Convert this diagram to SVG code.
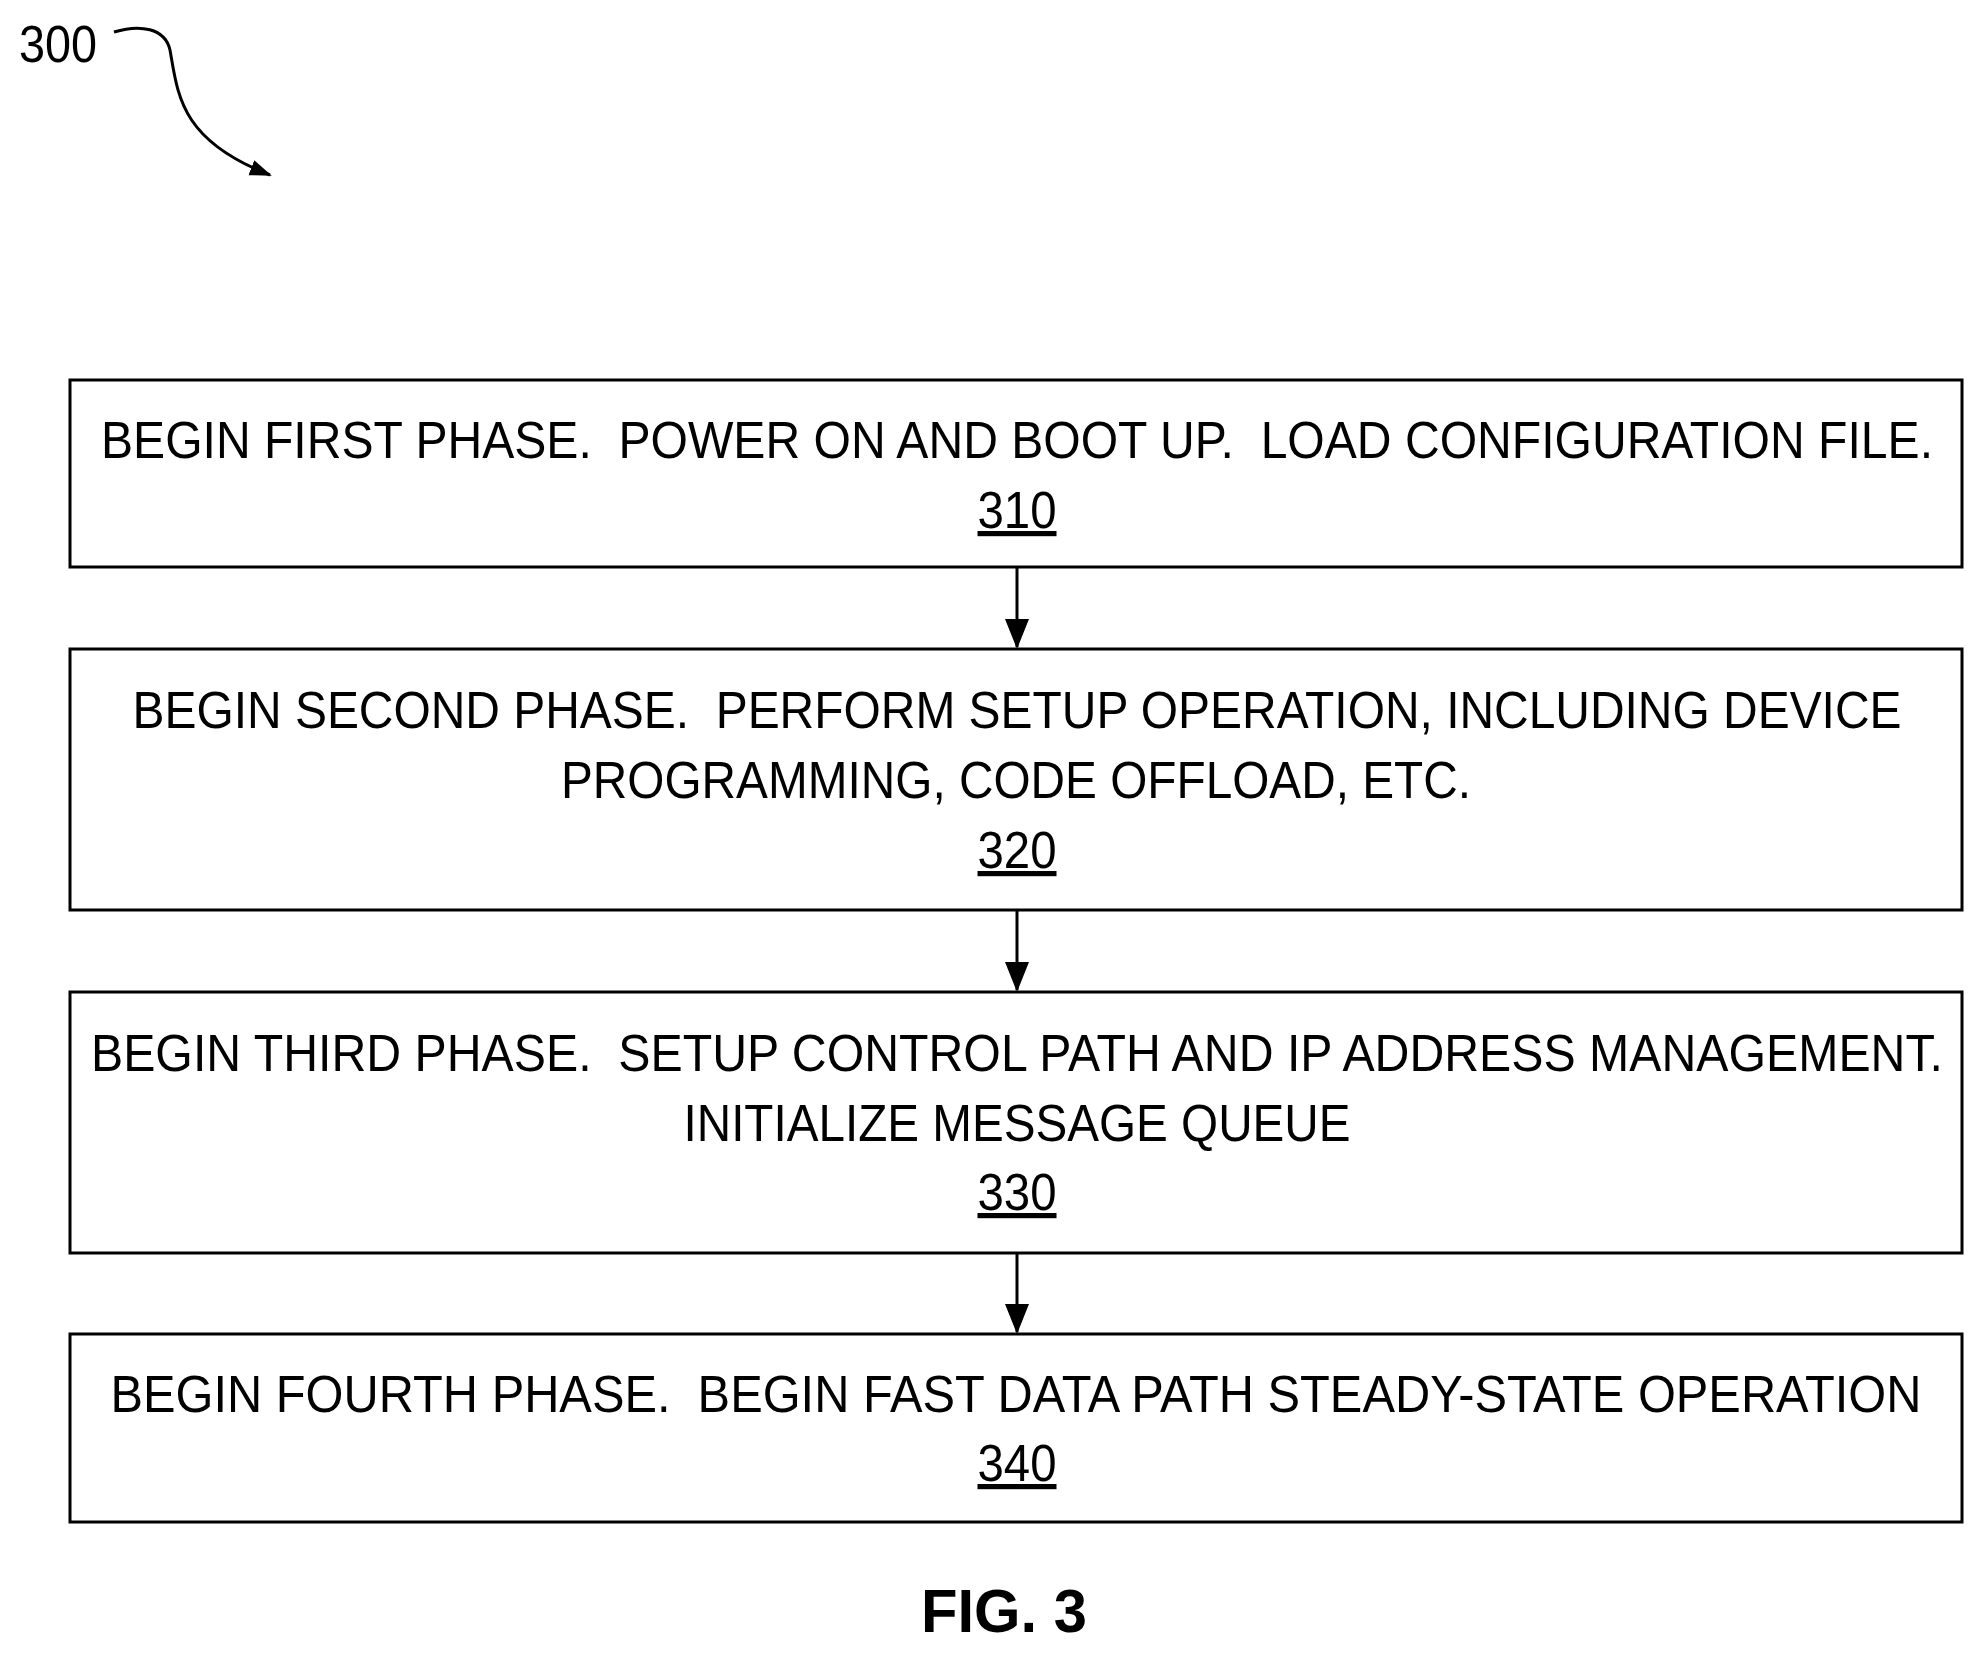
<svg xmlns="http://www.w3.org/2000/svg" width="1985" height="1655" viewBox="0 0 1985 1655">
<style>
.box{fill:#fff;stroke:#000;stroke-width:3}
.t{font-family:"Liberation Sans",Arial,sans-serif;font-size:52px;text-anchor:middle;fill:#000;white-space:pre}
.u{text-decoration:underline}
.c{stroke:#000;stroke-width:3;fill:none}
</style>
<defs>
<marker id="ah2" markerWidth="30" markerHeight="30" refX="28" refY="15" orient="auto" markerUnits="userSpaceOnUse" viewBox="0 0 30 30"><path d="M0,3 L30,15 L0,27 z" fill="#000"/></marker>
<marker id="ah3" markerWidth="22" markerHeight="22" refX="20" refY="11" orient="auto" markerUnits="userSpaceOnUse" viewBox="0 0 22 22"><path d="M0,3 L22,11 L0,19 z" fill="#000"/></marker></defs>
<rect width="1985" height="1655" fill="#fff"/>
<g id="label300"><text class="t" x="58" y="62" textLength="78" lengthAdjust="spacingAndGlyphs">300</text>
<path class="c" d="M114,32 C140,24 165,28 170,50 C178,95 180,140 270,175" marker-end="url(#ah3)" stroke-width="1.5"/></g>
<g id="n310"><rect class="box" x="70" y="380" width="1892" height="187"/>
<text class="t" x="1017" y="458" textLength="1832" lengthAdjust="spacingAndGlyphs" xml:space="preserve">BEGIN FIRST PHASE.  POWER ON AND BOOT UP.  LOAD CONFIGURATION FILE.</text>
<text class="t u" x="1017" y="528" textLength="79" lengthAdjust="spacingAndGlyphs">310</text></g>
<g id="n320"><rect class="box" x="70" y="649" width="1892" height="261"/>
<text class="t" x="1017" y="728" textLength="1769" lengthAdjust="spacingAndGlyphs" xml:space="preserve">BEGIN SECOND PHASE.  PERFORM SETUP OPERATION, INCLUDING DEVICE</text>
<text class="t" x="1016" y="798" textLength="910" lengthAdjust="spacingAndGlyphs">PROGRAMMING, CODE OFFLOAD, ETC.</text>
<text class="t u" x="1017" y="868" textLength="79" lengthAdjust="spacingAndGlyphs">320</text></g>
<g id="n330"><rect class="box" x="70" y="992" width="1892" height="261"/>
<text class="t" x="1017" y="1071" textLength="1852" lengthAdjust="spacingAndGlyphs" xml:space="preserve">BEGIN THIRD PHASE.  SETUP CONTROL PATH AND IP ADDRESS MANAGEMENT.</text>
<text class="t" x="1017" y="1141" textLength="667" lengthAdjust="spacingAndGlyphs">INITIALIZE MESSAGE QUEUE</text>
<text class="t u" x="1017" y="1210" textLength="79" lengthAdjust="spacingAndGlyphs">330</text></g>
<g id="n340"><rect class="box" x="70" y="1334" width="1892" height="188"/>
<text class="t" x="1016" y="1412" textLength="1811" lengthAdjust="spacingAndGlyphs" xml:space="preserve">BEGIN FOURTH PHASE.  BEGIN FAST DATA PATH STEADY-STATE OPERATION</text>
<text class="t u" x="1017" y="1481" textLength="79" lengthAdjust="spacingAndGlyphs">340</text></g>
<g id="connectors">
<line class="c" x1="1017" y1="567" x2="1017" y2="647" marker-end="url(#ah2)"/>
<line class="c" x1="1017" y1="910" x2="1017" y2="990" marker-end="url(#ah2)"/>
<line class="c" x1="1017" y1="1253" x2="1017" y2="1332" marker-end="url(#ah2)"/>
</g>
<text class="t" x="1004" y="1632" style="font-weight:bold;font-size:62px" textLength="166" lengthAdjust="spacingAndGlyphs">FIG. 3</text>
</svg>
